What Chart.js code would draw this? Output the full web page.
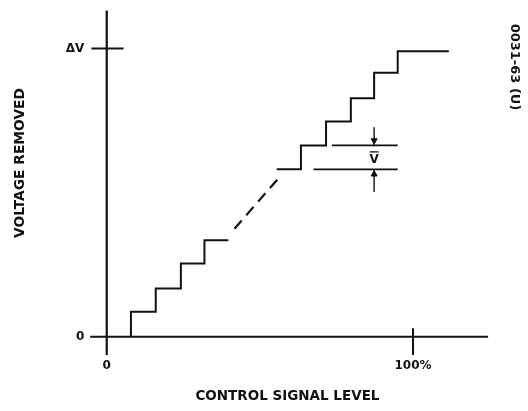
<!DOCTYPE html>
<html>
<head>
<meta charset="utf-8">
<script src="https://cdn.jsdelivr.net/npm/chart.js@4.4.0/dist/chart.umd.min.js"></script>
<style>
  html, body { margin: 0; padding: 0; background: #fff; }
  #wrap { width: 528px; height: 411px; position: relative; }
</style>
</head>
<body>
<div id="wrap"><canvas id="chart"></canvas></div>
<script>
// x = control signal level (% of full scale), y = voltage removed (% of ΔV)
const xTickValues = [0, 100];
const xTickLabels = ["0", "100%"];
const yTickValues = [0, 100];
const yTickLabels = ["0", "ΔV"];
const xTitle = "CONTROL SIGNAL LEVEL";
const yTitle = "VOLTAGE REMOVED";
const figureCode = "0031-63 (U)";

// drawn axes and their tick marks
const xAxisSpan = [-5.4, 124.5];
const yAxisSpan = [-6.3, 113.2];
const deltaVTickSpan = [-5.0, 5.5];
const fullScaleTickSpan = [3.0, -6.3];

// lower staircase
const lowRiseX = [7.9, 16.0, 24.2, 31.9];
const lowLevels = [8.7, 16.8, 25.4, 33.5];
const lowEndX = 39.7;

// dashed part in between
const gapX = [41.7, 56.9];
const gapY = [37.5, 56.0];

// upper staircase
const highStartX = 55.5;
const highStartLevel = 58.1;
const highRiseX = [63.4, 71.6, 79.7, 87.3, 95.0];
const highLevels = [66.4, 74.7, 82.8, 91.6, 99.1];
const highEndX = 111.7;

// one-step dimension (V)
const dimLevels = [66.4, 58.1];
const dimStartX = [73.5, 67.5];
const dimEndX = 95.0;
const arrowX = 87.3;
const arrowTopY = [72.7, 66.4];
const arrowBottomY = [50.2, 58.1];
const arrowHeadY = [68.1, 56.4];
const stepLabel = "V";
const stepLabelY = 61.9;

function stairs(startX, startY, riseX, levels, endX) {
  const pts = [{ x: startX, y: startY }];
  let y = startY;
  riseX.forEach((x, i) => {
    pts.push({ x: x, y: y });
    y = levels[i];
    pts.push({ x: x, y: y });
  });
  pts.push({ x: endX, y: y });
  return pts;
}

function seg(xs, ys) {
  return xs.map((x, i) => ({ x: x, y: ys[i] }));
}

function lineSet(data, width, dash) {
  return {
    data: data,
    showLine: true,
    borderColor: "#111",
    borderWidth: width,
    borderDash: dash || [],
    pointRadius: 0,
    tension: 0,
    clip: false,
  };
}

const datasets = [
  lineSet(seg(xAxisSpan, [0, 0]), 2),
  lineSet(seg([0, 0], yAxisSpan), 2.2),
  lineSet(seg(deltaVTickSpan, [100, 100]), 2),
  lineSet(seg([100, 100], fullScaleTickSpan), 2),
  lineSet(stairs(lowRiseX[0], 0, lowRiseX, lowLevels, lowEndX), 2),
  lineSet(seg(gapX, gapY), 2.2, [11, 7]),
  lineSet(stairs(highStartX, highStartLevel, highRiseX, highLevels, highEndX), 2),
  lineSet(seg([dimStartX[0], dimEndX], [dimLevels[0], dimLevels[0]]), 1.6),
  lineSet(seg([dimStartX[1], dimEndX], [dimLevels[1], dimLevels[1]]), 1.6),
  lineSet(seg([arrowX, arrowX], arrowTopY), 1.4),
  lineSet(seg([arrowX, arrowX], arrowBottomY), 1.4),
  {
    data: seg([arrowX, arrowX], arrowHeadY),
    showLine: false,
    pointStyle: "triangle",
    pointRadius: 3.5,
    rotation: [180, 0],
    backgroundColor: "#111",
    borderColor: "#111",
    borderWidth: 1,
    clip: false,
  },
];

// texts that do not belong to a scale
const freeText = {
  id: "freeText",
  afterDatasetsDraw(chart) {
    const { ctx, scales } = chart;
    const lx = scales.x.getPixelForValue(arrowX);
    const ly = scales.y.getPixelForValue(stepLabelY);
    ctx.save();
    ctx.fillStyle = "#111";
    ctx.strokeStyle = "#111";
    ctx.textAlign = "center";
    ctx.textBaseline = "middle";

    ctx.font = "bold 12px 'DejaVu Sans'";
    ctx.fillText(stepLabel, lx, ly + 1);
    ctx.lineWidth = 1.3;
    ctx.beginPath();
    ctx.moveTo(lx - 4.5, ly - 6.5);
    ctx.lineTo(lx + 4.5, ly - 6.5);
    ctx.stroke();

    ctx.save();
    ctx.translate(20, 163);
    ctx.rotate(-Math.PI / 2);
    ctx.font = "bold 13.8px 'DejaVu Sans'";
    ctx.fillText(yTitle, 0, 0);
    ctx.restore();

    ctx.save();
    ctx.translate(514, 67);
    ctx.rotate(Math.PI / 2);
    ctx.font = "bold 13px 'DejaVu Sans'";
    ctx.fillText(figureCode, 0, 0);
    ctx.restore();

    ctx.restore();
  },
};

Chart.defaults.font.family = "'DejaVu Sans', sans-serif";
Chart.defaults.color = "#111";

new Chart(document.getElementById("chart"), {
  type: "scatter",
  data: { datasets: datasets },
  options: {
    responsive: true,
    maintainAspectRatio: false,
    animation: false,
    layout: { padding: { left: 0, top: 7.6, right: 38.4, bottom: 2 } },
    plugins: { legend: { display: false }, tooltip: { enabled: false } },
    scales: {
      x: {
        type: "linear",
        min: -7,
        max: 125,
        grid: { display: false, drawTicks: false },
        border: { display: false },
        afterBuildTicks: (s) => { s.ticks = xTickValues.map((v) => ({ value: v })); },
        afterFit: (s) => { s.height = 52; },
        ticks: {
          padding: 2,
          maxRotation: 0,
          font: { size: 12, weight: "bold" },
          callback: (v) => xTickLabels[xTickValues.indexOf(v)],
        },
        title: {
          display: true,
          text: xTitle,
          font: { size: 13.5, weight: "bold" },
          padding: { top: 4, bottom: 4 },
        },
      },
      y: {
        type: "linear",
        min: -7,
        max: 114,
        grid: { display: false, drawTicks: false },
        border: { display: false },
        afterBuildTicks: (s) => { s.ticks = yTickValues.map((v) => ({ value: v })); },
        afterFit: (s) => { s.width = 85.3; },
        ticks: {
          padding: 1,
          font: { size: 12, weight: "bold" },
          callback: (v) => yTickLabels[yTickValues.indexOf(v)],
        },
      },
    },
  },
  plugins: [freeText],
});
</script>
</body>
</html>
